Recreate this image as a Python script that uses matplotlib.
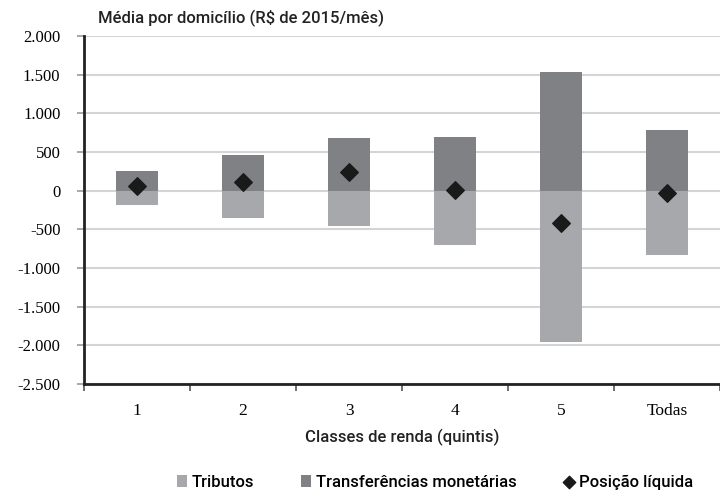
import numpy as np
import matplotlib
matplotlib.use("Agg")
import matplotlib.pyplot as plt
from matplotlib.ticker import FuncFormatter, FixedLocator

# dados (R$ de 2015/mês, média por domicílio)
classes = ["1", "2", "3", "4", "5", "Todas"]
tributos = [-191, -352, -452, -699, -1962, -833]
transferencias = [260, 460, 675, 692, 1531, 790]
posicao_liquida = [56, 108, 247, 10, -420, -30]

COR_TRIB = "#a7a8ac"
COR_TRANSF = "#808185"
COR_POS = "#1a1a1a"

SANS = ["Roboto", "DejaVu Sans"]
sans = {"family": SANS, "weight": "medium"}
serif = {"family": "Liberation Serif"}

fig = plt.figure(figsize=(7.2, 4.97), dpi=100)
ax = fig.add_axes([0.1167, 0.2274, 0.8833, 0.7002])

x = np.arange(len(classes))
b1 = ax.bar(x, tributos, width=0.4, color=COR_TRIB, label="Tributos", zorder=2)
b2 = ax.bar(x, transferencias, width=0.4, color=COR_TRANSF,
            label="Transferências monetárias", zorder=2)
sc = ax.scatter(x, posicao_liquida, marker="D", s=80, color=COR_POS,
                label="Posição líquida", zorder=3)

ax.set_xlim(-0.5, len(classes) - 0.5)
ax.set_ylim(-2500, 2000)
ax.set_yticks(np.arange(-2500, 2001, 500))
ax.yaxis.set_major_formatter(FuncFormatter(lambda v, p: f"{v:,.0f}".replace(",", ".")))
ax.grid(axis="y", color="#d4d4d4", linewidth=1.5, zorder=0)
ax.set_axisbelow(True)

ax.set_xticks(x)
ax.set_xticklabels(classes, fontdict=serif, fontsize=12.5)
ax.xaxis.set_minor_locator(FixedLocator(np.arange(-0.5, len(classes), 1)))
ax.tick_params(axis="x", which="major", length=0, pad=14)
ax.tick_params(axis="x", which="minor", length=5, color="#555555", width=1.2)
ax.tick_params(axis="y", length=5, color="#999999", width=1.2, pad=12, labelsize=12)
for lab in ax.get_yticklabels():
    lab.set_fontfamily("Liberation Serif")

for s in ["top", "right"]:
    ax.spines[s].set_visible(False)
for s in ["left", "bottom"]:
    ax.spines[s].set_linewidth(2)
    ax.spines[s].set_color("#222222")

ax.set_xlabel("Classes de renda (quintis)", fontsize=12, color="#222222",
              labelpad=7, **sans)
fig.text(0.136, 0.963, "Média por domicílio (R$ de 2015/mês)", fontsize=12,
         color="#222222", ha="left", va="center", **sans)

leg = fig.legend([b1, b2, sc], ["Tributos", "Transferências monetárias", "Posição líquida"],
                 loc="center", bbox_to_anchor=(0.604, 0.03), ncol=3, frameon=False,
                 handlelength=0.6, handletextpad=0.3, columnspacing=2.8,
                 prop={"family": SANS, "weight": "medium", "size": 12})
leg.legend_handles[2].set_sizes([40])

fig.savefig("out.png", dpi=100)
